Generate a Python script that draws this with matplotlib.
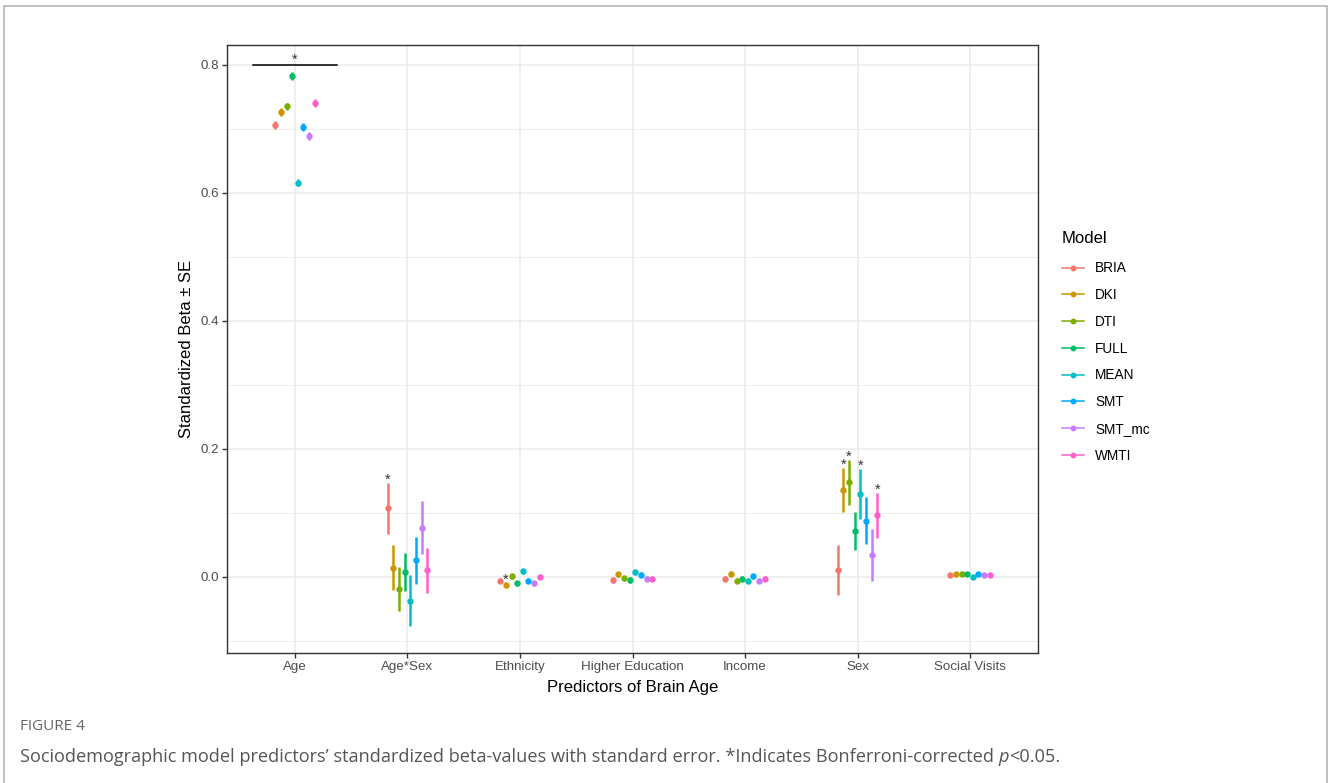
import numpy as np
import matplotlib
matplotlib.use("Agg")
import matplotlib.pyplot as plt
from matplotlib.lines import Line2D
from matplotlib.patches import Rectangle

# categories and groups
predictors = ["Age", "Age*Sex", "Ethnicity", "Higher Education", "Income", "Sex", "Social Visits"]
models = ["BRIA", "DKI", "DTI", "FULL", "MEAN", "SMT", "SMT_mc", "WMTI"]
colors = ["#F8766D", "#CD9600", "#7CAE00", "#00BE67", "#00BFC4", "#00A9FF", "#C77CFF", "#FF61CC"]

# standardized betas (one list per predictor, in model order)
age_beta = [0.706, 0.726, 0.735, 0.783, 0.616, 0.703, 0.689, 0.740]
agesex_beta = [0.107, 0.014, -0.019, 0.008, -0.037, 0.026, 0.077, 0.010]
ethnicity_beta = [-0.006, -0.013, 0.001, -0.010, 0.009, -0.006, -0.010, 0.000]
highered_beta = [-0.005, 0.004, -0.002, -0.005, 0.007, 0.003, -0.003, -0.003]
income_beta = [-0.003, 0.005, -0.006, -0.003, -0.006, 0.001, -0.006, -0.003]
sex_beta = [0.010, 0.136, 0.148, 0.072, 0.130, 0.088, 0.034, 0.096]
social_beta = [0.003, 0.004, 0.004, 0.004, 0.000, 0.004, 0.003, 0.003]

# standard errors
age_se = [0.006, 0.006, 0.006, 0.006, 0.006, 0.006, 0.006, 0.006]
agesex_se = [0.040, 0.035, 0.035, 0.030, 0.040, 0.037, 0.041, 0.035]
ethnicity_se = [0.004, 0.004, 0.004, 0.004, 0.004, 0.004, 0.004, 0.004]
highered_se = [0.004, 0.004, 0.004, 0.004, 0.004, 0.004, 0.004, 0.004]
income_se = [0.004, 0.004, 0.004, 0.004, 0.004, 0.004, 0.004, 0.004]
sex_se = [0.039, 0.034, 0.035, 0.030, 0.039, 0.036, 0.040, 0.035]
social_se = [0.003, 0.003, 0.003, 0.003, 0.003, 0.003, 0.003, 0.003]

# significance (Bonferroni p<0.05), per model
agesex_sig = [1, 0, 0, 0, 0, 0, 0, 0]
ethnicity_sig = [0, 1, 0, 0, 0, 0, 0, 0]
highered_sig = [0, 0, 0, 0, 0, 0, 0, 0]
income_sig = [0, 0, 0, 0, 0, 0, 0, 0]
sex_sig = [0, 1, 1, 0, 1, 0, 0, 1]
social_sig = [0, 0, 0, 0, 0, 0, 0, 0]
age_bracket_y = 0.8  # all models significant for Age

betas = np.array([age_beta, agesex_beta, ethnicity_beta, highered_beta, income_beta, sex_beta, social_beta])
ses = np.array([age_se, agesex_se, ethnicity_se, highered_se, income_se, sex_se, social_se])
sigs = np.array([[0] * 8, agesex_sig, ethnicity_sig, highered_sig, income_sig, sex_sig, social_sig])

W, H = 1328, 783
fig = plt.figure(figsize=(W / 100, H / 100), dpi=100)
plt.rcParams["font.family"] = ["Liberation Sans", "DejaVu Sans"]

ax = fig.add_axes([227 / W, 1 - 653 / H, (1038 - 227) / W, (653 - 45) / H])

x = np.arange(len(predictors))
dodge = 0.05
for j, m in enumerate(models):
    xs = x + (j - 3.5) * dodge
    ax.errorbar(xs, betas[:, j], yerr=ses[:, j], fmt="o", color=colors[j],
                ms=3.6, elinewidth=1.8, capsize=0, zorder=3)
    for i in range(len(predictors)):
        if sigs[i, j]:
            ax.text(xs[i], betas[i, j] + ses[i, j] + 0.005, "*", ha="center", va="center",
                    fontsize=10.5, color="#333333", zorder=4)

# Age bracket
ax.plot([x[0] - 0.375, x[0] + 0.375], [age_bracket_y, age_bracket_y], color="black", lw=1.1, zorder=3)
ax.text(x[0], age_bracket_y + 0.008, "*", ha="center", va="center", fontsize=10.5, color="#333333")

ax.set_xlim(-0.604, len(predictors) - 1 + 0.604)
ax.set_ylim(-0.119, 0.831)
ax.set_xticks(x)
ax.set_xticklabels(predictors)
ax.set_yticks([0.0, 0.2, 0.4, 0.6, 0.8])
ax.set_yticklabels(["0.0", "0.2", "0.4", "0.6", "0.8"])
ax.set_yticks([-0.1, 0.1, 0.3, 0.5, 0.7], minor=True)
ax.grid(True, which="major", color="#EBEBEB", lw=1.1, zorder=0)
ax.grid(True, which="minor", axis="y", color="#EBEBEB", lw=0.6, zorder=0)
ax.set_axisbelow(True)
ax.tick_params(axis="both", which="major", length=3.5, width=1, color="#333333",
               labelsize=9.6, labelcolor="#4D4D4D", pad=2.5)
ax.tick_params(axis="both", which="minor", length=0)
for s in ax.spines.values():
    s.set_color("#333333")
    s.set_linewidth(1.0)

ax.set_xlabel("Predictors of Brain Age", fontsize=12, labelpad=5)
ax.set_ylabel("Standardized Beta \u00b1 SE", fontsize=12, labelpad=4)

handles = [Line2D([0], [0], color=c, lw=1.1, marker="o", ms=3.2) for c in colors]
leg = fig.legend(handles, models, title="Model", loc="upper left",
                 bbox_to_anchor=(1062 / W, 1 - 231 / H), frameon=False,
                 fontsize=9.8, title_fontsize=12, handlelength=1.65, handletextpad=0.8,
                 labelspacing=0.94, borderpad=0, borderaxespad=0, alignment="left")
leg._legend_box.sep = 11

# outer frame
fig.patches.append(Rectangle((4 / W, -0.02), (1326.5 - 4) / W, (H - 6) / H + 0.02,
                             transform=fig.transFigure, fill=False, edgecolor="#B5B5B5", lw=1.2))

# caption
fig.text(20 / W, 1 - 727 / H, "FIGURE 4", fontsize=11, color="#666666", family="Open Sans",
         va="center", ha="left")
cap_y = 1 - 757 / H
cap_fs = 13.1
t1 = fig.text(20 / W, cap_y, "Sociodemographic model predictors\u2019 standardized beta-values with standard error. *Indicates Bonferroni-corrected ",
              fontsize=cap_fs, color="#555555", family="Open Sans", va="center", ha="left")
fig.canvas.draw()
r = fig.canvas.get_renderer()
bb = t1.get_window_extent(r)
t2 = fig.text(bb.x1 / W, cap_y, "p", fontsize=cap_fs, color="#555555", family="Open Sans",
              style="italic", va="center", ha="left")
bb2 = t2.get_window_extent(r)
fig.text(bb2.x1 / W, cap_y, "<0.05.", fontsize=cap_fs, color="#555555", family="Open Sans",
         va="center", ha="left")

fig.savefig("out.png", dpi=100)
